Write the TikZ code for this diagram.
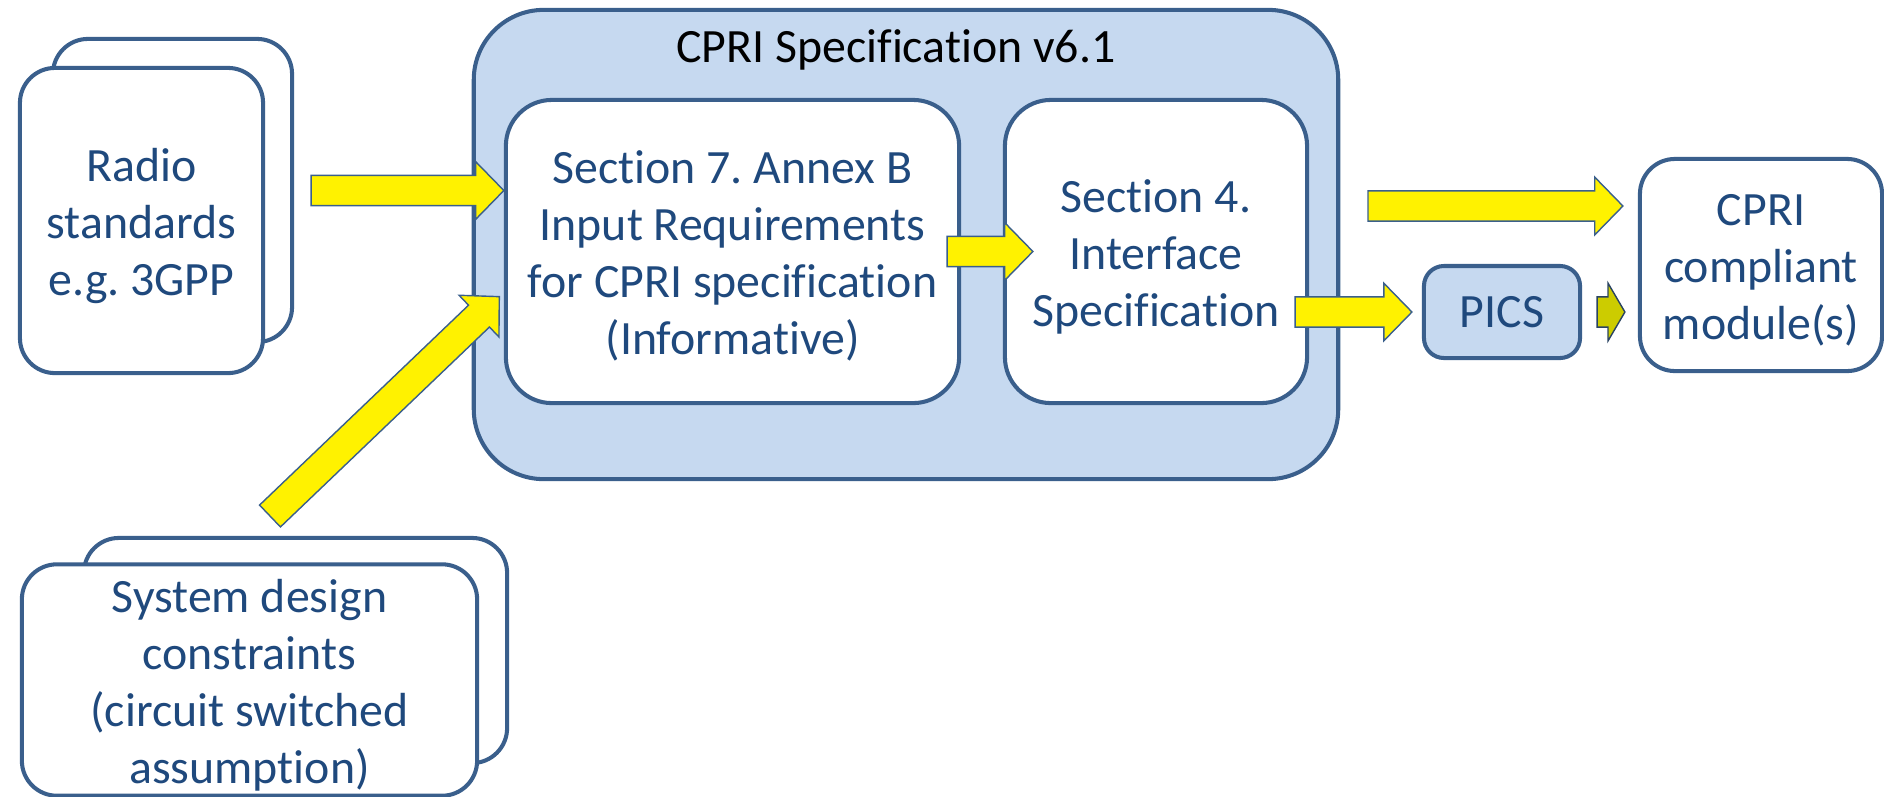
\documentclass[tikz,border=0pt]{standalone}
\usepackage{fontspec}
\setmainfont{Carlito}[Ligatures=NoCommon]
\frenchspacing
\usetikzlibrary{calc}
\definecolor{cpriline}{RGB}{58,95,140}
\definecolor{cprifill}{RGB}{198,217,240}
\definecolor{cpritext}{RGB}{31,73,125}
\definecolor{picsarrow}{RGB}{204,204,0}
\newcommand{\upstrut}{\vrule width0pt height13.7pt depth0pt}
\newcommand{\downstrut}{\vrule width0pt height0pt depth3.5pt}
\tikzset{
  txt/.style={font=\fontsize{13.6}{16.2}\selectfont},
  box/.style={txt,draw=cpriline,line width=1.15pt,fill=white,text=cpritext,align=center,inner sep=0pt},
  bluebox/.style={fill=cprifill},
  yarrow/.style={draw=cpriline,line width=0.4pt,fill=yellow},
  oarrow/.style={draw=cpriline!70!black,line width=0.4pt,fill=picsarrow}
}
\newcommand{\blockarrow}[4][yarrow]{
  \filldraw[#1] let \p1=(#2), \p2=(#3), \n1={atan2(\y2-\y1,\x2-\x1)}, \n2={veclen(\x2-\x1,\y2-\y1)} in
    [shift={(\p1)},rotate=\n1] (0pt,-4.3pt) -- (\n2-#4,-4.3pt) -- (\n2-#4,-8.2pt) -- (\n2,0pt)
    -- (\n2-#4,8.2pt) -- (\n2-#4,4.3pt) -- (0pt,4.3pt) -- cycle;
}

\begin{document}
\begin{tikzpicture}[x=0.01cm,y=-0.01cm]
\useasboundingbox (0,0) rectangle (1884,796);
\node[box,minimum width=2.39cm,minimum height=3.03cm,rounded corners=0.35cm] (radioback) at (172.5,190.5) {};
\node[box,minimum width=2.43cm,minimum height=3.05cm,rounded corners=0.35cm] (radio) at (141.5,220.5) {\upstrut Radio\\standards\\e.g. 3GPP\downstrut};
\node[box,minimum width=4.23cm,minimum height=2.25cm,rounded corners=0.35cm] (sysback) at (295.5,650.5) {};
\node[box,minimum width=4.55cm,minimum height=2.26cm,rounded corners=0.35cm] (sys) at (249.5,680) {\upstrut System design\\constraints\\(circuit switched\\assumption)\downstrut};
\node[box,bluebox,minimum width=8.64cm,minimum height=4.69cm,rounded corners=0.7cm] (spec) at (906,244.5) {};
\node[txt,text=black] (title) at (896,50) {CPRI Specification v6.1};
\node[box,minimum width=4.53cm,minimum height=3.03cm,rounded corners=0.46cm] (sec7) at (732.5,251.5) {\upstrut Section 7. Annex B\\Input Requirements\\for CPRI specification\\(Informative)\downstrut};
\node[box,minimum width=3.02cm,minimum height=3.03cm,rounded corners=0.46cm] (sec4) at (1156,251.5) {\upstrut Section 4.\\Interface\\Specification\downstrut};
\node[box,bluebox,minimum width=1.56cm,minimum height=0.92cm,rounded corners=0.2cm] (pics) at (1502,312) {PICS};
\node[box,minimum width=2.42cm,minimum height=2.12cm,rounded corners=0.35cm] (module) at (1761,265) {\upstrut CPRI\\compliant\\module(s)\downstrut};

\coordinate (radio-tail) at ($(radioback.east)+(17,0)$);
\coordinate (radio-tip) at (sec7.west |- radio-tail);
\coordinate (sys-tail) at (270,516);
\coordinate (sys-tip) at (500,296);
\coordinate (sec7-tail) at ($(sec7.east)+(-14,0)$);
\coordinate (sec7-tip) at ($(sec4.west)+(30,0)$);
\coordinate (sec4-tail) at ($(sec4.east |- pics.west)+(-14,0)$);
\coordinate (sec4-tip) at ($(pics.west)+(-10,0)$);
\coordinate (spec-tail) at (1368,206);
\coordinate (spec-tip) at ($(module.west |- spec-tail)+(-15,0)$);
\coordinate (pics-tail) at ($(pics.east)+(15,0)$);
\coordinate (pics-tip) at ($(module.west |- pics.east)+(-13,0)$);

\foreach \s/\e in {radio-tail/radio-tip,sys-tail/sys-tip,sec7-tail/sec7-tip,sec4-tail/sec4-tip,spec-tail/spec-tip}
  {\blockarrow{\s}{\e}{8pt}}
\blockarrow[oarrow]{pics-tail}{pics-tip}{4.8pt}
\end{tikzpicture}
\end{document}
